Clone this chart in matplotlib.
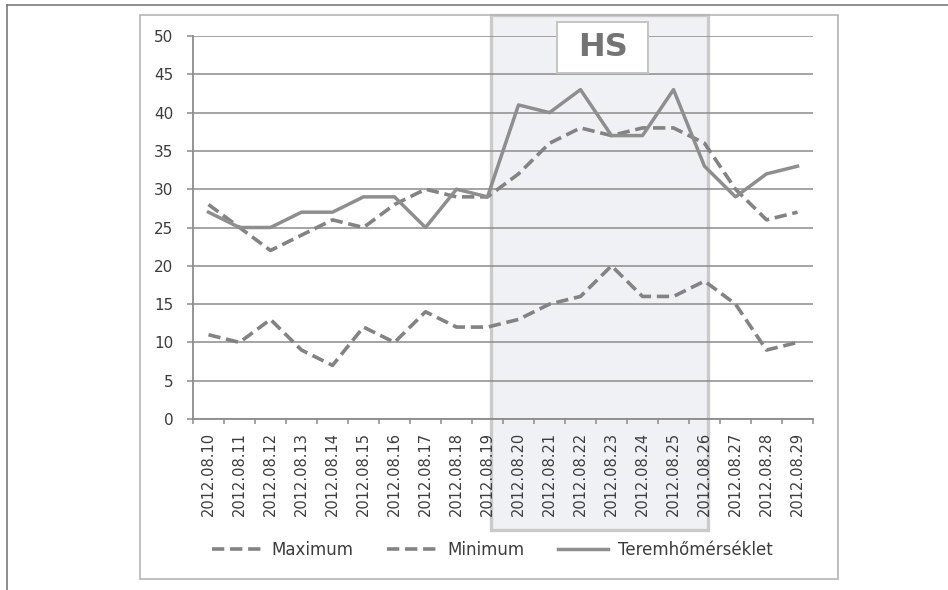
import matplotlib
matplotlib.use("Agg")
import matplotlib.pyplot as plt
from matplotlib.patches import Rectangle
from matplotlib.lines import Line2D
import numpy as np

# Data
dates = ["2012.08.10", "2012.08.11", "2012.08.12", "2012.08.13", "2012.08.14",
         "2012.08.15", "2012.08.16", "2012.08.17", "2012.08.18", "2012.08.19",
         "2012.08.20", "2012.08.21", "2012.08.22", "2012.08.23", "2012.08.24",
         "2012.08.25", "2012.08.26", "2012.08.27", "2012.08.28", "2012.08.29"]
maximum = [28, 25, 22, 24, 26, 25, 28, 30, 29, 29, 32, 36, 38, 37, 38, 38, 36, 30, 26, 27]
minimum = [11, 10, 13, 9, 7, 12, 10, 14, 12, 12, 13, 15, 16, 20, 16, 16, 18, 15, 9, 10]
terem = [27, 25, 25, 27, 27, 29, 29, 25, 30, 29, 41, 40, 43, 37, 37, 43, 33, 29, 32, 33]

# HS period (category positions, slightly wider than the points)
hs_start, hs_end = 9.1, 16.1

W, H = 948, 590
fig = plt.figure(figsize=(W / 100, H / 100), dpi=100)
ax = fig.add_axes([193 / W, 1 - 419 / H, 620 / W, 383 / H])

x = np.arange(len(dates))
dash = (3.4, 1.6)
l1, = ax.plot(x, maximum, color="#838383", lw=2.6, dashes=dash, dash_capstyle="butt",
              label="Maximum", zorder=4)
l2, = ax.plot(x, minimum, color="#838383", lw=2.6, dashes=dash, dash_capstyle="butt",
              label="Minimum", zorder=4)
l3, = ax.plot(x, terem, color="#8e8e8e", lw=2.5, label="Teremhőmérséklet", zorder=4)

ax.set_xlim(-0.5, len(dates) - 0.5)
ax.set_ylim(0, 50)
ax.set_yticks(np.arange(0, 51, 5))
ax.set_xticks(x)
ax.set_xticklabels(dates, rotation=90)
ax.set_xticks(np.arange(-0.5, len(dates), 1), minor=True)

ax.grid(axis="y", color="#8c8c8c", lw=1.1)
ax.set_axisbelow(True)
for s in ["top", "right"]:
    ax.spines[s].set_visible(False)
for s in ["left", "bottom"]:
    ax.spines[s].set_color("#8c8c8c")
    ax.spines[s].set_linewidth(1.3)

ax.tick_params(axis="y", length=4.3, width=1.1, color="#8c8c8c", pad=10,
               labelsize=11, labelcolor="#3c3c3c")
ax.tick_params(axis="x", which="major", length=0, pad=9.5, labelsize=10.5,
               labelcolor="#3c3c3c")
ax.tick_params(axis="x", which="minor", length=3.6, width=1.1, color="#8c8c8c")

# shaded HS period
ymin_d = -(530 - 419) / (383 / 50)
ymax_d = 50 + (36 - 15) / (383 / 50)
ax.add_patch(Rectangle((hs_start, ymin_d), hs_end - hs_start, ymax_d - ymin_d,
                       facecolor="#f0f1f4", edgecolor="#cacaca", lw=2.4,
                       clip_on=False, zorder=0.4))

# HS label box
bx0, bx1 = 11.23, 14.19
by0, by1 = 45.2, 51.8
ax.add_patch(Rectangle((bx0, by0), bx1 - bx0, by1 - by0, facecolor="white",
                       edgecolor="#c4c4c4", lw=1.4, clip_on=False, zorder=3))
ax.text((bx0 + bx1) / 2, (by0 + by1) / 2, "HS", ha="center", va="center",
        fontsize=23, fontweight="bold", color="#747474", zorder=5)

# legend
fig.legend(handles=[l1, l2, l3], loc="center", bbox_to_anchor=(492 / W, 1 - 550 / H),
           ncol=3, frameon=False, fontsize=12, handlelength=3.0,
           handletextpad=0.6, columnspacing=2.0, labelcolor="#3c3c3c")

# chart frame
fig.add_artist(Rectangle((140 / W, 1 - 579 / H), 698 / W, 564 / H,
                         transform=fig.transFigure, fill=False,
                         edgecolor="#b5b5b5", lw=1.2))
# page edge lines
fig.add_artist(Line2D([7 / W, 1], [1 - 5 / H, 1 - 5 / H], color="#7a7a7a", lw=1.2))
fig.add_artist(Line2D([7 / W, 7 / W], [0, 1 - 5 / H], color="#7a7a7a", lw=1.2))

fig.savefig("out.png", dpi=100)
